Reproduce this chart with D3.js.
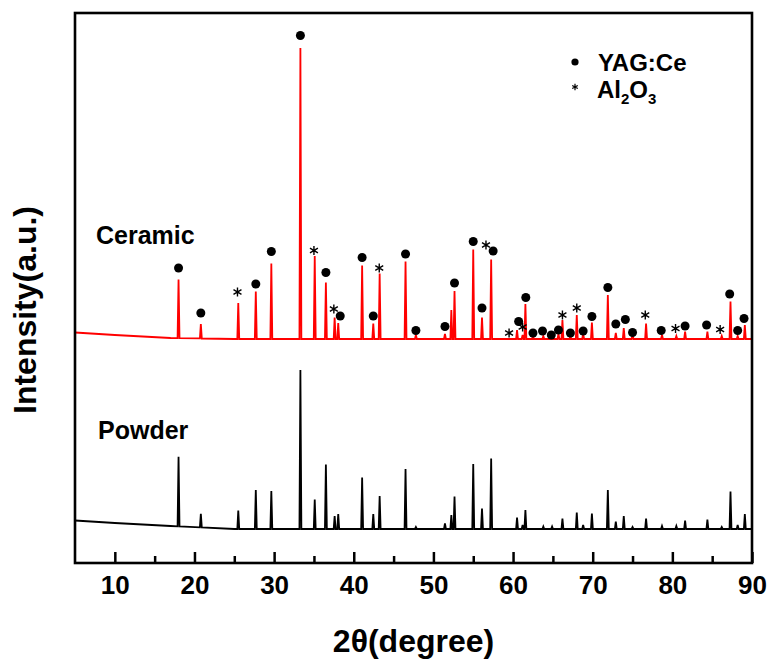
<!DOCTYPE html>
<html>
<head>
<meta charset="utf-8">
<script src="https://cdn.jsdelivr.net/npm/d3@7"></script>
<style>
body { margin: 0; background: #fff; }
text { font-family: "Liberation Sans", Arial, sans-serif; font-weight: bold; fill: #000; }
</style>
</head>
<body>
<div id="chart"></div>
<script>
// peak positions (2theta) and peak heights above background (a.u.)
var peakDeg = [18.0, 20.8, 25.5, 27.7, 29.65, 33.3, 35.1, 36.5, 37.6, 38.05,
               41.05, 42.45, 43.25, 46.5, 47.8, 51.45, 52.25, 52.65, 55.0, 56.1,
               57.25, 60.5, 61.2, 61.55, 62.5, 63.8, 64.9, 65.7, 66.2, 67.2,
               68.0, 68.8, 69.9, 71.9, 72.9, 73.9, 75.0, 76.7, 78.7, 80.5,
               81.6, 84.4, 86.2, 87.3, 88.2, 89.1];
var ceramicPeak = [117, 29, 72, 95, 151, 582, 166, 113, 43, 32,
                   147, 31, 131, 155, 8, 10, 58, 96, 179, 43,
                   159, 18, 8, 70, 6, 6, 4, 10, 38, 6,
                   48, 10, 33, 88, 12, 22, 8, 31, 8, 6,
                   15, 15, 6, 75, 6, 28];
var powderPeak = [139, 27, 37, 78, 76, 318, 59, 129, 26, 30,
                  103, 30, 66, 120, 4, 11, 28, 65, 130, 41,
                  141, 23, 8, 38, 0, 5, 5, 0, 21, 0,
                  33, 8, 31, 78, 15, 26, 4, 21, 6, 6,
                  17, 19, 4, 75, 8, 30];

// background levels (a.u.), ceramic pattern is shifted up
var bgDeg = [5, 10, 17, 25, 90];
var ceramicBg = [461, 456, 450, 448, 448];
var powderBg = [85, 80, 74, 68, 68];

// phase markers on the ceramic pattern
var yagDeg = [18.0, 20.8, 27.7, 29.65, 33.3, 36.5, 38.3, 41.05, 42.45, 46.5,
              47.8, 51.45, 52.65, 55.0, 56.1, 57.5, 60.7, 61.6, 62.5, 63.7,
              64.8, 65.7, 67.2, 68.8, 69.9, 71.9, 72.9, 74.1, 75.0, 78.6,
              81.6, 84.3, 87.2, 88.2, 89.0];
var yagLevel = [590, 500, 558, 623, 1055, 581, 494, 611, 494, 618,
                465, 473, 560, 643, 510, 624, 483, 531, 460, 464,
                456, 466, 460, 464, 493, 551, 478, 487, 461, 465,
                474, 476, 538, 465, 489];
var alDeg = [25.4, 35.0, 37.5, 43.2, 56.6, 59.5, 61.2, 66.2, 68.0, 76.6, 80.4, 86.0];
var alLevel = [542, 625, 508, 590, 636, 460, 472, 496, 510, 496, 469, 467];

var majorTicks = [10, 20, 30, 40, 50, 60, 70, 80, 90];
var minorTicks = [15, 25, 35, 45, 55, 65, 75, 85];

var margin = {top: 13, right: 17, bottom: 96, left: 75};
var W = 769, H = 659;
var width = W - margin.left - margin.right;
var height = H - margin.top - margin.bottom;

var xScale = d3.scaleLinear().domain([5, 90]).range([0, width]),
    yScale = d3.scaleLinear().domain([0, 1100]).range([height, 0]);

var svg = d3.select("#chart").append("svg")
    .attr("width", W)
    .attr("height", H);

var g = svg.append("g")
    .attr("transform", "translate(" + margin.left + "," + margin.top + ")");

g.append("clipPath").attr("id", "clip")
  .append("rect").attr("width", width).attr("height", height);

var hw = 0.12;
function pattern(heights, bg) {
  var bgAt = d3.scaleLinear().domain(bgDeg).range(bg);
  var pts = bgDeg.map(function(d, i) { return [d, bg[i]]; });
  peakDeg.forEach(function(p, i) {
    if (heights[i] > 0) {
      pts.push([p - hw, bgAt(p - hw)], [p, bgAt(p) + heights[i]], [p + hw, bgAt(p + hw)]);
    }
  });
  pts.sort(function(a, b) { return a[0] - b[0]; });
  return pts;
}

var line = d3.line()
    .x(function(d) { return xScale(d[0]); })
    .y(function(d) { return yScale(d[1]); });

g.append("path")
  .datum(pattern(powderPeak, powderBg))
  .attr("clip-path", "url(#clip)")
  .attr("fill", "none")
  .attr("stroke", "#000")
  .attr("stroke-width", 1.8)
  .attr("d", line);

g.append("path")
  .datum(pattern(ceramicPeak, ceramicBg))
  .attr("clip-path", "url(#clip)")
  .attr("fill", "none")
  .attr("stroke", "#ff0000")
  .attr("stroke-width", 1.8)
  .attr("d", line);

function asterisk(r) {
  var c = r * Math.cos(Math.PI / 6), s = r * 0.5;
  return "M0," + (-r) + "L0," + r +
         "M" + (-c) + "," + (-s) + "L" + c + "," + s +
         "M" + (-c) + "," + s + "L" + c + "," + (-s);
}

g.append("g").selectAll("circle")
  .data(yagDeg).enter()
  .append("circle")
  .attr("cx", function(d) { return xScale(d); })
  .attr("cy", function(d, i) { return yScale(yagLevel[i]); })
  .attr("r", 4.5)
  .attr("fill", "#000");

g.append("g").selectAll("path")
  .data(alDeg).enter()
  .append("path")
  .attr("transform", function(d, i) { return "translate(" + xScale(d) + "," + yScale(alLevel[i]) + ")"; })
  .attr("d", asterisk(4.6))
  .attr("stroke", "#000")
  .attr("stroke-width", 1.4)
  .attr("fill", "none");

// inward ticks on the bottom axis
var xAxis = d3.axisBottom(xScale).tickValues(majorTicks).tickSize(-11).tickSizeOuter(0).tickPadding(13);
var xMinor = d3.axisBottom(xScale).tickValues(minorTicks).tickSize(-7).tickSizeOuter(0).tickFormat("");

var xx = g.append("g")
    .attr("transform", "translate(0," + height + ")")
    .call(xAxis);
xx.select(".domain").remove();
xx.selectAll("line").attr("stroke-width", 2.5);
xx.selectAll("text").style("font-size", "26px").attr("font-family", null);

var xm = g.append("g")
    .attr("transform", "translate(0," + height + ")")
    .call(xMinor);
xm.select(".domain").remove();
xm.selectAll("line").attr("stroke-width", 2.5);

g.append("rect")
  .attr("width", width)
  .attr("height", height)
  .attr("fill", "none")
  .attr("stroke", "#000")
  .attr("stroke-width", 2.6);

// axis titles
svg.append("text")
  .attr("x", margin.left + width / 2)
  .attr("y", 652)
  .attr("text-anchor", "middle")
  .style("font-size", "32px")
  .text("2θ(degree)");

svg.append("text")
  .attr("transform", "translate(36,310) rotate(-90)")
  .attr("text-anchor", "middle")
  .style("font-size", "32px")
  .text("Intensity(a.u.)");

// pattern labels
svg.append("text").attr("x", 96).attr("y", 244).style("font-size", "25px").text("Ceramic");
svg.append("text").attr("x", 98).attr("y", 439).style("font-size", "25px").text("Powder");

// legend
svg.append("circle").attr("cx", 575).attr("cy", 62).attr("r", 3.6).attr("fill", "#000");
svg.append("text").attr("x", 598).attr("y", 71).style("font-size", "24px").text("YAG:Ce");
svg.append("path")
  .attr("transform", "translate(575,87)")
  .attr("d", asterisk(3.2))
  .attr("stroke", "#000")
  .attr("stroke-width", 1.2)
  .attr("fill", "none");
var al = svg.append("text").attr("x", 597).attr("y", 98).style("font-size", "24px");
al.append("tspan").text("Al");
al.append("tspan").attr("dy", 6).style("font-size", "15px").text("2");
al.append("tspan").attr("dy", -6).text("O");
al.append("tspan").attr("dy", 6).style("font-size", "15px").text("3");
</script>
</body>
</html>
